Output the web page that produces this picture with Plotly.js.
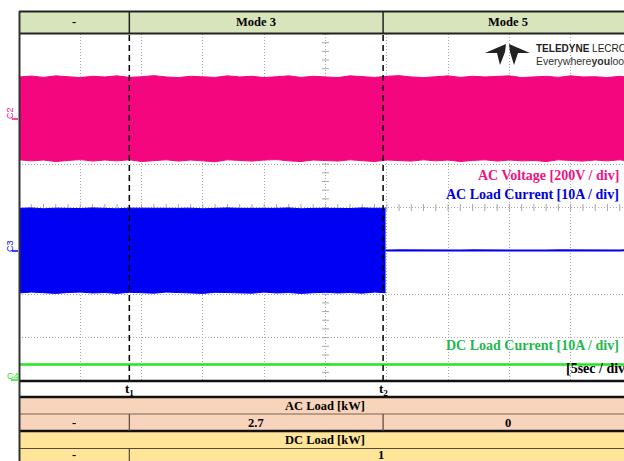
<!DOCTYPE html>
<html><head><meta charset="utf-8">
<script src="https://cdn.plot.ly/plotly-3.0.1.min.js"></script>
<style>html,body{margin:0;padding:0;background:#fff;overflow:hidden}#chart{width:624px;height:461px}</style>
</head><body><div id="chart"></div>
<script>
// ---------------- data (read from the scope capture) ----------------
// time in seconds (5 s / div)
const tFull = [0,1,2,3,4,5,6,7,8,9,10,11,12,13,14,15,16,17,18,19,20,21,22,23,24,25,26,27,28,29,30,31,32,33,34,35,36,37,38,39,40,41,42,43,44,45,46,47,48,49,49.35];
// AC voltage envelope [V]
const acVoltUpper = [193,197,191,198,194,190,196,193,198,191, 194,199,193,190,196,194,191,198,193,196, 190,194,198,191,196,193,190,198,194,191, 196,199,193,190,194,198,191,196,193,194, 198,190,194,196,191,198,193,194,190,196, 194];
const acVoltLower = [-189,-194,-190,-197,-192,-188,-195,-190,-194,-189, -197,-192,-189,-195,-190,-194,-198,-189,-192,-195, -190,-188,-194,-197,-190,-192,-195,-189,-194,-197, -190,-192,-195,-189,-194,-190,-197,-192,-189,-195, -190,-194,-192,-197,-189,-192,-195,-190,-194,-189, -192];
// AC load current envelope [A] while loaded
const tLoadOn = [0,1,2,3,4,5,6,7,8,9,10,11,12,13,14,15,16,17,18,19,20,21,22,23,24,25,26,27,28,29,29.9];
const acCurUpper = [9.7,9.8,9.6,9.75,9.7,9.65,9.8,9.7,9.6,9.75, 9.7,9.8,9.65,9.7,9.75,9.6,9.7,9.8,9.7,9.65, 9.75,9.7,9.8,9.6,9.7,9.75,9.7,9.65,9.8,9.7, 9.75];
const acCurLower = [-9.8,-9.6,-9.75,-9.9,-9.7,-9.6,-9.8,-9.7,-9.9,-9.65, -9.75,-9.85,-9.6,-9.7,-9.8,-9.9,-9.65,-9.75,-9.7,-9.85, -9.6,-9.8,-9.7,-9.9,-9.75,-9.65,-9.8,-9.7,-9.85,-9.6, -9.75];
// AC load current after load removal [A]
const tLoadOff = [29.9,30,31,32,33,34,35,36,37,38,39,40,41,42,43,44,45,46,47,48,49,49.35];
const acCurOff = [0.05,-0.02,0.04,0,-0.03,0.05,0.02,-0.04,0.03,0, 0.04,-0.02,0.05,0.01,-0.03,0.04,0,-0.02,0.05,0.02, -0.01,0.03];
// DC load current [A]
const dcCur = [3.3,3.32,3.28,3.31,3.3,3.29,3.33,3.3,3.28,3.31, 3.3,3.29,3.32,3.3,3.28,3.31,3.3,3.33,3.29,3.3, 3.31,3.28,3.3,3.32,3.29,3.3,3.31,3.28,3.3,3.32, 3.3,3.29,3.31,3.3,3.28,3.32,3.3,3.29,3.31,3.3, 3.28,3.3,3.32,3.29,3.3,3.31,3.3,3.28,3.3,3.31, 3.3];
// events and table
const eventTimes = [9.0, 29.7];
const eventLabels = ['t<sub>1</sub>','t<sub>2</sub>'];
const modeLabels = ['-','Mode 3','Mode 5'];
const acLoadLabels = ['-','2.7','0'];
const dcLoadLabels = ['-','1'];
const chanLabels = ['C2','C3','C4'];
const scaleTexts = ['AC Voltage [200V / div]','AC Load Current [10A / div]','DC Load Current [10A / div]','[5sec / div]'];

// ---------------- scope settings ----------------
const vScale = 200, vOffset = 2.045;   // V/div, div
const iScale = 10,  iOffset = -0.99;
const dScale = 10,  dOffset = -3.95;
const xMax = 49.35, tEnd = 50;
const PINK = '#F4067E', BLUE = '#0000F2', GREEN = '#22E622';

const toDiv = (arr, s, o) => arr.map(v => o + v / s);
const py = y => (381 - y) / 347;   // pixel row -> paper
const px = x => (x - 19) / 605;    // pixel col -> paper

// center-axis minor tick marks (graticule decoration)
const tickX = [], tickY0 = [], tickXc = [], tickYc = [];
for (let i = 0; i <= 49; i++) { tickX.push(i); tickY0.push(0); }
for (let j = 0; j <= 40; j++) { tickXc.push(25); tickYc.push(-4 + j * 0.2); }

const GRID = '#a8a8a8';
const traces = [
  {x: tickX, y: tickY0, mode: 'markers', marker: {symbol: 'line-ns-open', size: 5, color: GRID, line: {color: GRID, width: 1}}, hoverinfo: 'skip'},
  {x: tickXc, y: tickYc, mode: 'markers', marker: {symbol: 'line-ew-open', size: 5, color: GRID, line: {color: GRID, width: 1}}, hoverinfo: 'skip'},
  {x: tFull, y: toDiv(acVoltUpper, vScale, vOffset), mode: 'lines', line: {color: PINK, width: 1}, hoverinfo: 'skip'},
  {x: tFull, y: toDiv(acVoltLower, vScale, vOffset), mode: 'lines', line: {color: PINK, width: 1}, fill: 'tonexty', fillcolor: PINK, hoverinfo: 'skip'},
  {x: tLoadOn, y: toDiv(acCurUpper, iScale, iOffset), mode: 'lines', line: {color: BLUE, width: 1}, hoverinfo: 'skip'},
  {x: tLoadOn, y: toDiv(acCurLower, iScale, iOffset), mode: 'lines', line: {color: BLUE, width: 1}, fill: 'tonexty', fillcolor: BLUE, hoverinfo: 'skip'},
  {x: tLoadOff, y: toDiv(acCurOff, iScale, iOffset), mode: 'lines', line: {color: BLUE, width: 2}, hoverinfo: 'skip'},
  {x: tFull, y: toDiv(dcCur, dScale, dOffset), mode: 'lines', line: {color: GREEN, width: 2.5}, hoverinfo: 'skip'}
];

const SERIF = 'Liberation Serif, Times New Roman, serif';
const SANS = 'Liberation Sans, Arial, sans-serif';
const shapes = [];
const ann = [];
function rect(y0, y1, fill) {
  shapes.push({type: 'rect', xref: 'x', yref: 'paper', x0: 0, x1: tEnd, y0: py(y1), y1: py(y0), fillcolor: fill, line: {width: 0}, layer: 'below'});
}
function hline(y, w, c) {
  shapes.push({type: 'line', xref: 'paper', yref: 'paper', x0: 0, x1: 1.02, y0: py(y), y1: py(y), line: {color: c, width: w}});
}
function vline(t, y0, y1, w, c, dash) {
  shapes.push({type: 'line', xref: 'x', yref: 'paper', x0: t, x1: t, y0: py(y1), y1: py(y0), line: {color: c, width: w, dash: dash || 'solid'}});
}
function txt(x, y, s, opt) {
  ann.push(Object.assign({xref: 'x', yref: 'paper', x: x, y: py(y), text: s, showarrow: false, xanchor: 'center', yanchor: 'middle',
    font: {family: SERIF, size: 12.5, color: '#000'}}, opt || {}));
}

// table backgrounds
rect(11, 33, '#D8E4BC');
rect(381, 397, '#FFFFFF');
rect(397, 431, '#F9D4BD');
rect(431, 461, '#FFE599');
// table borders
hline(11.5, 2, '#222');
hline(33.5, 2, '#222');
hline(381, 2.5, '#111');
hline(397, 2.5, '#111');
hline(414, 1.2, '#7a6452');
hline(431, 2.5, '#111');
hline(448.5, 1.2, '#5a4a3a');
vline(eventTimes[0], 11, 33, 1.5, '#222');
vline(eventTimes[1], 11, 33, 1.5, '#222');
vline(eventTimes[0], 414, 431, 1.2, '#5a4638');
vline(eventTimes[1], 414, 431, 1.2, '#5a4638');
vline(eventTimes[0], 448, 461, 1.2, '#5a4638');
// event dashed markers
vline(eventTimes[0], 33, 381, 1.5, '#000', '6px,4px');
vline(eventTimes[1], 33, 381, 1.5, '#000', '6px,4px');
// left frame
shapes.push({type: 'line', xref: 'paper', yref: 'paper', x0: px(19.5), x1: px(19.5), y0: py(461), y1: py(11), line: {color: '#333', width: 2}});
// channel zero markers
shapes.push({type: 'line', xref: 'paper', yref: 'paper', x0: px(12), x1: px(18), y0: py(119), y1: py(119), line: {color: PINK, width: 1.5}});
shapes.push({type: 'line', xref: 'paper', yref: 'paper', x0: px(12), x1: px(18), y0: py(251), y1: py(251), line: {color: BLUE, width: 1.5}});
shapes.push({type: 'line', xref: 'paper', yref: 'paper', x0: px(11), x1: px(18), y0: py(380), y1: py(380), line: {color: GREEN, width: 1.5}});

// logo glyph (Teledyne)
function pth(pts) {
  let d = '';
  pts.forEach((p, i) => { d += (i ? ' L ' : 'M ') + px(p[0]).toFixed(4) + ' ' + py(p[1]).toFixed(4); });
  return d + ' Z';
}
shapes.push({type: 'path', xref: 'paper', yref: 'paper', path: pth([[506,44],[485,53],[497,53],[500,65],[505,52]]), fillcolor: '#222', line: {width: 0}});
shapes.push({type: 'path', xref: 'paper', yref: 'paper', path: pth([[509,44],[530,53],[518,53],[514,65],[510,52]]), fillcolor: '#222', line: {width: 0}});

// header row
const hdrX = [eventTimes[0] / 2, (eventTimes[0] + eventTimes[1]) / 2, (eventTimes[1] + tEnd) / 2];
modeLabels.forEach((s, i) => txt(hdrX[i], 22.5, '<b>' + s + '</b>'));
eventLabels.forEach((s, i) => txt(eventTimes[i], 389, '<b>' + s + '</b>', {font: {family: SERIF, size: 13, color: '#000'}}));
txt(tEnd / 2, 405.5, '<b>AC Load [kW]</b>');
acLoadLabels.forEach((s, i) => txt(hdrX[i], 422.5, '<b>' + s + '</b>'));
txt(tEnd / 2, 440, '<b>DC Load [kW]</b>');
const dcX = [eventTimes[0] / 2, (eventTimes[0] + tEnd) / 2];
dcLoadLabels.forEach((s, i) => txt(dcX[i], 455, '<b>' + s + '</b>'));

// scale captions
const capCol = ['#F0147F', '#0000E6', '#22B84C', '#000'];
const capY = [175, 194, 345, 368];
scaleTexts.forEach((s, i) => {
  if (i < 3) ann.push({xref: 'paper', yref: 'paper', x: px(621), y: py(capY[i]), xanchor: 'right', yanchor: 'middle', showarrow: false,
    text: '<b>' + s + '</b>', font: {family: SERIF, size: 14, color: capCol[i]}});
  else ann.push({xref: 'paper', yref: 'paper', x: px(564), y: py(capY[i]), xanchor: 'left', yanchor: 'middle', showarrow: false,
    text: '<b>' + s + '</b>', font: {family: SERIF, size: 14, color: capCol[i]}});
});
// channel names
const chY = [113, 246, 376], chCol = [PINK, BLUE, GREEN];
chanLabels.forEach((s, i) => ann.push({xref: 'paper', yref: 'paper', x: px(i < 2 ? 10 : 13), y: py(chY[i]), xanchor: 'center', yanchor: 'middle',
  showarrow: false, text: s, textangle: i < 2 ? -90 : 0, font: {family: SANS, size: 9, color: chCol[i]}}));
// logo text
ann.push({xref: 'paper', yref: 'paper', x: px(534), y: py(49), xanchor: 'left', yanchor: 'middle', showarrow: false,
  text: '<b>TELEDYNE</b> LECROY', font: {family: SANS, size: 10, color: '#222'}});
ann.push({xref: 'paper', yref: 'paper', x: px(534), y: py(61), xanchor: 'left', yanchor: 'middle', showarrow: false,
  text: 'Everywhere<b>you</b>look', font: {family: SANS, size: 10.5, color: '#333'}});

const layout = {
  width: 624, height: 461,
  margin: {l: 19, r: 0, t: 34, b: 80, pad: 0},
  paper_bgcolor: '#fff', plot_bgcolor: '#fff',
  showlegend: false,
  xaxis: {range: [0, xMax], dtick: 5, tick0: 0, showgrid: true, griddash: '1px,2px', gridcolor: GRID, gridwidth: 1,
    zeroline: false, showticklabels: false, ticks: '', showline: false, fixedrange: true},
  yaxis: {range: [-4, 4], dtick: 1, tick0: 0, showgrid: true, griddash: '1px,2px', gridcolor: GRID, gridwidth: 1,
    zeroline: false, showticklabels: false, ticks: '', showline: false, fixedrange: true},
  shapes: shapes,
  annotations: ann
};
Plotly.newPlot('chart', traces, layout, {staticPlot: true, displayModeBar: false});
</script></body></html>
